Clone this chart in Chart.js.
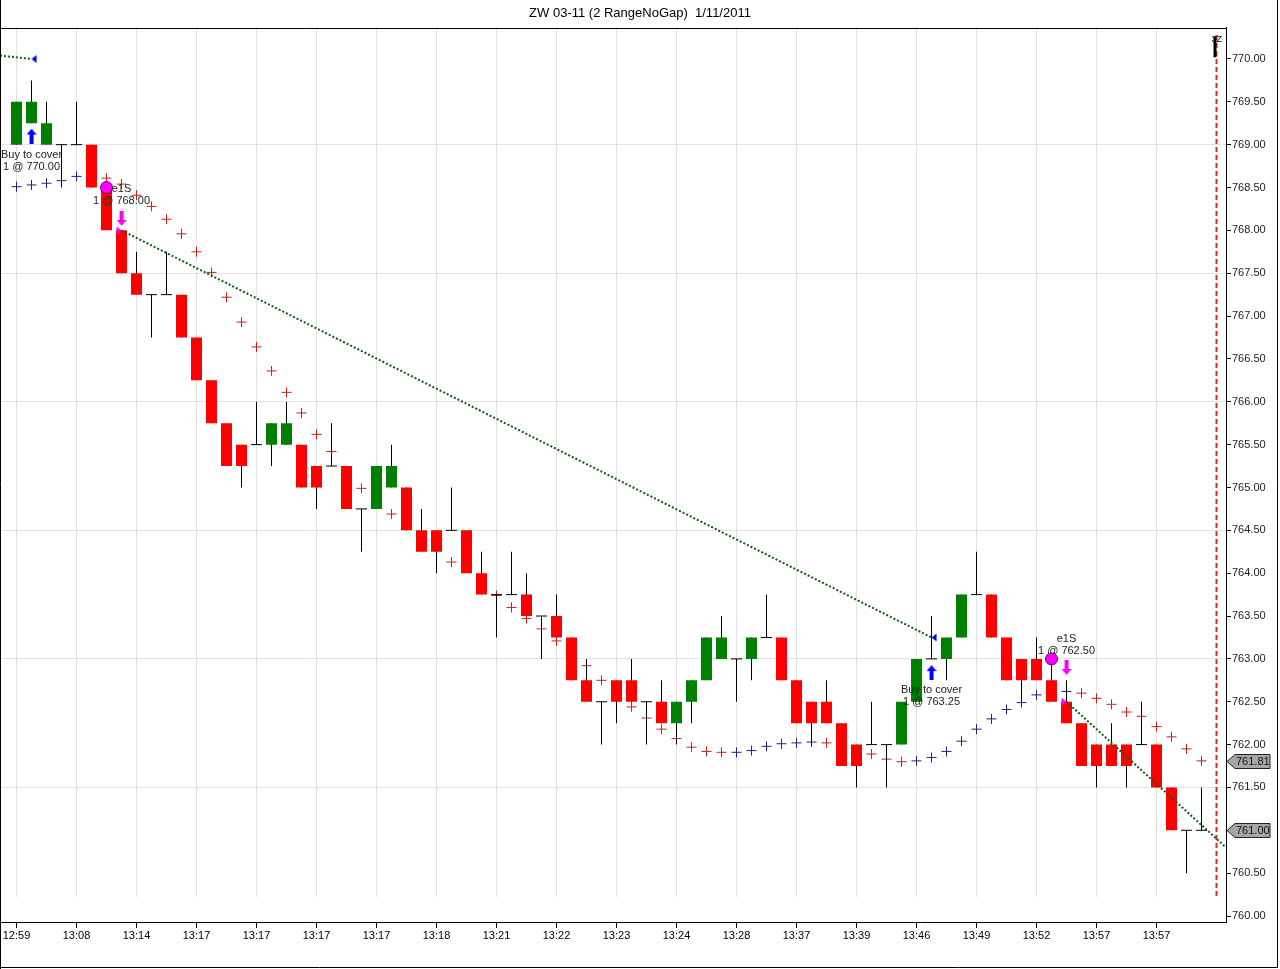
<!DOCTYPE html>
<html>
<head>
<meta charset="utf-8">
<title>ZW 03-11 range chart</title>
<script src="https://cdn.jsdelivr.net/npm/chart.js@4.4.1/dist/chart.umd.min.js"></script>
<style>
  html, body { margin: 0; padding: 0; background: #fff; }
  canvas { display: block; }
</style>
</head>
<body>
<canvas id="chart" width="1280" height="969"></canvas>
<script>
// time labels under every 4th range bar
const timeLabels = ["12:59", "13:08", "13:14", "13:17", "13:17", "13:17", "13:17", "13:18", "13:21", "13:22",
  "13:23", "13:24", "13:28", "13:37", "13:39", "13:46", "13:49", "13:52", "13:57", "13:57"];

const opens = [
  769.00, 769.25, 769.00, 769.00, 769.00, 769.00, 768.50, 768.00, 767.50, 767.25,
  767.25, 767.25, 766.75, 766.25, 765.75, 765.50, 765.50, 765.50, 765.50, 765.50,
  765.25, 765.25, 765.25, 764.75, 764.75, 765.00, 765.00, 764.50, 764.50, 764.50,
  764.50, 764.00, 763.75, 763.75, 763.75, 763.50, 763.50, 763.25, 762.75, 762.50,
  762.75, 762.75, 762.50, 762.50, 762.25, 762.50, 762.75, 763.00, 763.00, 763.00,
  763.25, 763.25, 762.75, 762.50, 762.50, 762.25, 762.00, 762.00, 762.00, 762.00,
  762.50, 763.00, 763.00, 763.25, 763.75, 763.75, 763.25, 763.00, 763.00, 762.75,
  762.50, 762.25, 762.00, 762.00, 762.00, 762.00, 762.00, 761.50, 761.00, 761.00];
const highs = [
  769.50, 769.75, 769.50, 769.00, 769.50, 769.00, 768.50, 768.00, 767.75, 767.25,
  767.75, 767.25, 766.75, 766.25, 765.75, 765.50, 766.00, 765.75, 766.00, 765.50,
  765.25, 765.75, 765.25, 764.75, 765.25, 765.50, 765.00, 764.75, 764.50, 765.00,
  764.50, 764.25, 763.75, 764.25, 764.00, 763.50, 763.75, 763.25, 763.00, 762.50,
  762.75, 763.00, 762.50, 762.75, 762.50, 762.75, 763.25, 763.50, 763.00, 763.25,
  763.75, 763.25, 762.75, 762.50, 762.75, 762.25, 762.00, 762.50, 762.00, 762.50,
  763.00, 763.50, 763.25, 763.75, 764.25, 763.75, 763.25, 763.00, 763.25, 763.00,
  762.75, 762.25, 762.00, 762.25, 762.00, 762.50, 762.00, 761.50, 761.00, 761.50];
const lows = [
  769.00, 769.25, 769.00, 768.50, 769.00, 768.50, 768.00, 767.50, 767.25, 766.75,
  767.25, 766.75, 766.25, 765.75, 765.25, 765.00, 765.50, 765.25, 765.50, 765.00,
  764.75, 765.25, 764.75, 764.25, 764.75, 765.00, 764.50, 764.25, 764.00, 764.50,
  764.00, 763.75, 763.25, 763.75, 763.50, 763.00, 763.25, 762.75, 762.50, 762.00,
  762.25, 762.50, 762.00, 762.25, 762.00, 762.25, 762.75, 763.00, 762.50, 762.75,
  763.25, 762.75, 762.25, 762.00, 762.25, 761.75, 761.50, 762.00, 761.50, 762.00,
  762.50, 763.00, 762.75, 763.25, 763.75, 763.25, 762.75, 762.50, 762.75, 762.50,
  762.25, 761.75, 761.50, 761.75, 761.50, 762.00, 761.50, 761.00, 760.50, 761.00];
const closes = [
  769.50, 769.50, 769.25, 769.00, 769.00, 768.50, 768.00, 767.50, 767.25, 767.25,
  767.25, 766.75, 766.25, 765.75, 765.25, 765.25, 765.50, 765.75, 765.75, 765.00,
  765.00, 765.25, 764.75, 764.75, 765.25, 765.25, 764.50, 764.25, 764.25, 764.50,
  764.00, 763.75, 763.75, 763.75, 763.50, 763.50, 763.25, 762.75, 762.50, 762.50,
  762.50, 762.50, 762.50, 762.25, 762.50, 762.75, 763.25, 763.25, 763.00, 763.25,
  763.25, 762.75, 762.25, 762.25, 762.25, 761.75, 761.75, 762.00, 762.00, 762.50,
  763.00, 763.00, 763.25, 763.75, 763.75, 763.25, 762.75, 762.75, 762.75, 762.50,
  762.25, 761.75, 761.75, 761.75, 761.75, 762.00, 761.50, 761.00, 761.00, 761.00];

// parabolic SAR, blue below price / red above price (null where hidden)
const sarUp = [
  768.51, 768.53, 768.55, 768.58, 768.63, null, null, null, null, null,
  null, null, null, null, null, null, null, null, null, null,
  null, null, null, null, null, null, null, null, null, null,
  null, null, null, null, null, null, null, null, null, null,
  null, null, null, null, null, null, null, null, 761.91, 761.93,
  761.98, 762.01, 762.02, 762.03, null, null, null, null, null, null,
  761.81, 761.85, 761.92, 762.04, 762.18, 762.30, 762.41, 762.49, 762.58, null,
  762.62, null, null, null, null, null, null, null, null, null];
const sarDown = [
  null, null, null, null, null, null, 768.61, 768.54, 768.41, 768.28,
  768.13, 767.96, 767.75, 767.51, 767.22, 766.93, 766.64, 766.36, 766.11, 765.87,
  765.62, 765.42, null, 764.99, null, 764.69, null, null, null, 764.13,
  null, null, 763.74, 763.60, 763.47, 763.35, 763.21, null, 762.92, 762.75,
  null, 762.44, 762.31, 762.18, 762.07, 761.97, 761.92, 761.91, null, null,
  null, null, null, null, 762.02, null, null, 761.89, 761.83, 761.80,
  null, null, null, null, null, null, null, null, null, null,
  null, 762.60, 762.54, 762.47, 762.38, 762.33, 762.21, 762.09, 761.95, 761.81];

const priceTicks = [760.0, 760.5, 761.0, 761.5, 762.0, 762.5, 763.0, 763.5, 764.0, 764.5, 765.0,
  765.5, 766.0, 766.5, 767.0, 767.5, 768.0, 768.5, 769.0, 769.5, 770.0];
const gridPrices = [761.5, 763.0, 764.5, 766.0, 767.5, 769.0];

// trade connector lines (bar index / price)
const tradeOneX = [-1.1, 1], tradeOneY = [770.04, 770.00];
const tradeTwoX = [7, 61], tradeTwoY = [768.00, 763.25];
const tradeThreeX = [70, 80.633], tradeThreeY = [762.50, 760.80];

const exitBars = [1, 61], exitPrices = [770.00, 763.25];
const entryBars = [7, 70], entryPrices = [768.00, 762.50];
const signalBars = [6, 69], signalPrices = [768.50, 763.00];
const upArrowBars = [1, 61], upArrowPrices = [769.10, 762.84];
const downArrowBars = [7, 70], downArrowPrices = [768.14, 762.90];

const noteBars = [1, 7, 61, 70];
const notePrices = [768.88, 768.48, 762.64, 763.23];
const noteTop = ["Buy to cover", "e1S", "Buy to cover", "e1S"];
const noteBottom = ["1 @ 770.00", "1 @ 768.00", "1 @ 763.25", "1 @ 762.50"];

const nowBar = 80;
const nowLineY = [770.28, 760.22];
const busyMarkY = [770.26, 770.02];

Chart.defaults.font.family = 'Arial, "Liberation Sans", sans-serif';
Chart.defaults.font.size = 11;

const pts = (xs, ys) => xs.map((x, i) => ({ x: x, y: ys[i] }));

const wicks = opens.map((_, i) => ({ x: i, y: [lows[i], highs[i]] }));
const bodies = [], bodyColors = [], dojis = [];
opens.forEach((o, i) => {
  const c = closes[i];
  if (o === c) {
    dojis.push({ x: i, y: o });
  } else {
    bodies.push({ x: i, y: [o, c] });
    bodyColors.push(c > o ? '#008000' : '#ff0000');
  }
});

function arrowImg(color, up) {
  const c = document.createElement('canvas');
  c.width = 10; c.height = 15;
  const g = c.getContext('2d');
  if (!up) { g.translate(0, 15); g.scale(1, -1); }
  g.fillStyle = color;
  g.beginPath(); g.moveTo(0, 6); g.lineTo(5, 0); g.lineTo(10, 6); g.closePath(); g.fill();
  g.fillRect(3, 6, 4, 9);
  return c;
}
function triImg(color, left) {
  const c = document.createElement('canvas');
  c.width = 12; c.height = 9;
  const g = c.getContext('2d');
  g.fillStyle = color;
  g.beginPath();
  if (left) { g.moveTo(6, 4.5); g.lineTo(11, 0.5); g.lineTo(11, 8.5); }
  else { g.moveTo(6, 4.5); g.lineTo(1, 0.5); g.lineTo(1, 8.5); }
  g.closePath(); g.fill();
  return c;
}

const decor = {
  id: 'decor',
  beforeDatasetsDraw(chart) {
    // faded sub-panel strip at the bottom of the price pane
    const { ctx, chartArea: a, scales } = chart;
    const top = scales.y.getPixelForValue(nowLineY[1]);
    ctx.save();
    ctx.fillStyle = '#fff';
    ctx.fillRect(a.left + 1, top, a.right - a.left - 2, a.bottom - top - 1);
    ctx.restore();
  },
  afterDatasetDraw(chart, args) {
    if (chart.data.datasets[args.index].label !== 'doji') return;
    const { ctx, scales } = chart;
    ctx.save();
    ctx.font = '11px Arial, "Liberation Sans", sans-serif';
    ctx.fillStyle = '#222';
    ctx.textAlign = 'center';
    ctx.textBaseline = 'middle';
    noteBars.forEach((b, i) => {
      const x = scales.x.getPixelForValue(b);
      const y = scales.y.getPixelForValue(notePrices[i]);
      ctx.fillText(noteTop[i], x, y);
      ctx.fillText(noteBottom[i], x, y + 12);
    });
    ctx.restore();
  },
  afterDraw(chart) {
    const { ctx, chartArea: a, scales } = chart;
    const W = chart.width, H = chart.height;
    ctx.save();
    ctx.strokeStyle = '#000';
    ctx.lineWidth = 1;
    ctx.beginPath();
    ctx.moveTo(0, Math.round(a.top) + 0.5); ctx.lineTo(a.right, Math.round(a.top) + 0.5);
    ctx.moveTo(0.5, 0); ctx.lineTo(0.5, H);
    ctx.moveTo(W - 2.5, 0); ctx.lineTo(W - 2.5, H - 1.5);
    ctx.moveTo(0, H - 1.5); ctx.lineTo(W - 2, H - 1.5);
    ctx.stroke();

    // "3Z" next to the bar in progress
    const nx = scales.x.getPixelForValue(nowBar);
    ctx.font = '9px Arial, "Liberation Sans", sans-serif';
    ctx.fillStyle = '#000';
    ctx.textBaseline = 'middle';
    ctx.fillText('3Z', nx - 5, scales.y.getPixelForValue(busyMarkY[0]) + 3);

    // price tags on the axis
    const tags = [sarDown[sarDown.length - 1], closes[closes.length - 1]];
    ctx.font = '11px Arial, "Liberation Sans", sans-serif';
    tags.forEach(v => {
      const y = Math.round(scales.y.getPixelForValue(v)) + 0.5;
      const x0 = a.right + 1;
      ctx.beginPath();
      ctx.moveTo(x0, y);
      ctx.lineTo(x0 + 8, y - 7);
      ctx.lineTo(x0 + 43, y - 7);
      ctx.lineTo(x0 + 43, y + 7);
      ctx.lineTo(x0 + 8, y + 7);
      ctx.closePath();
      ctx.fillStyle = '#a6a6a6';
      ctx.fill();
      ctx.strokeStyle = '#222';
      ctx.stroke();
      ctx.fillStyle = '#111';
      ctx.textAlign = 'left';
      ctx.fillText(v.toFixed(2), x0 + 9, y + 0.5);
    });
    ctx.restore();
  }
};

new Chart(document.getElementById('chart'), {
  type: 'scatter',
  data: {
    datasets: [
      {
        label: 'sarUp', type: 'scatter', order: 6,
        data: sarUp.map((v, i) => ({ x: i, y: v })),
        pointStyle: 'cross', radius: 5, borderWidth: 1, borderColor: '#22228a'
      },
      {
        label: 'sarDown', type: 'scatter', order: 6,
        data: sarDown.map((v, i) => ({ x: i, y: v })),
        pointStyle: 'cross', radius: 5, borderWidth: 1, borderColor: '#d01c1c'
      },
      {
        label: 'wick', type: 'bar', order: 5, data: wicks,
        backgroundColor: '#000', barThickness: 1, grouped: false, inflateAmount: 0, borderWidth: 0
      },
      {
        label: 'body', type: 'bar', order: 4, data: bodies,
        backgroundColor: bodyColors, barThickness: 11, grouped: false, inflateAmount: 0, borderWidth: 0
      },
      {
        label: 'doji', type: 'scatter', order: 3, data: dojis,
        pointStyle: 'line', radius: 5.5, borderWidth: 1, borderColor: '#000'
      },
      {
        label: 'trade1', type: 'line', order: 2, data: pts(tradeOneX, tradeOneY),
        borderColor: '#0b5d0b', borderWidth: 2, borderDash: [2, 2], pointRadius: 0
      },
      {
        label: 'trade2', type: 'line', order: 2, data: pts(tradeTwoX, tradeTwoY),
        borderColor: '#0b5d0b', borderWidth: 2, borderDash: [2, 2], pointRadius: 0
      },
      {
        label: 'trade3', type: 'line', order: 2, data: pts(tradeThreeX, tradeThreeY),
        borderColor: '#0b5d0b', borderWidth: 2, borderDash: [2, 2], pointRadius: 0
      },
      {
        label: 'now', type: 'line', order: 2, data: pts([nowBar, nowBar], nowLineY),
        borderColor: '#e02a2a', borderWidth: 2, borderDash: [5, 3], pointRadius: 0
      },
      {
        label: 'busy', type: 'line', order: 1, data: pts([nowBar - 0.1, nowBar - 0.1], busyMarkY),
        borderColor: '#000', borderWidth: 3, pointRadius: 0
      },
      {
        label: 'signal', type: 'scatter', order: 0, data: pts(signalBars, signalPrices),
        pointStyle: 'circle', radius: 6, backgroundColor: '#ff00ff', borderColor: '#6b006b', borderWidth: 1
      },
      {
        label: 'exit', type: 'scatter', order: 0, data: pts(exitBars, exitPrices),
        pointStyle: triImg('#0000ff', true)
      },
      {
        label: 'entry', type: 'scatter', order: 0, data: pts(entryBars, entryPrices),
        pointStyle: triImg('#ff00ff', false)
      },
      {
        label: 'up', type: 'scatter', order: 0, data: pts(upArrowBars, upArrowPrices),
        pointStyle: arrowImg('#0000ff', true)
      },
      {
        label: 'down', type: 'scatter', order: 0, data: pts(downArrowBars, downArrowPrices),
        pointStyle: arrowImg('#ff00ff', false)
      }
    ]
  },
  options: {
    responsive: false,
    animation: false,
    events: [],
    layout: { padding: 0, autoPadding: false },
    plugins: {
      legend: { display: false },
      tooltip: { enabled: false },
      title: {
        display: true,
        text: 'ZW 03-11 (2 RangeNoGap)  1/11/2011',
        color: '#000',
        font: { size: 13, weight: 'normal' },
        padding: { top: 6, bottom: 6 }
      }
    },
    scales: {
      x: {
        type: 'linear', position: 'bottom', min: -1.1, max: 80.633, bounds: 'data',
        offset: false,
        afterBuildTicks: (scale) => { scale.ticks = timeLabels.map((_, k) => ({ value: k * 4 })); },
        afterFit: (scale) => {
          scale.height = 47;
          scale.paddingLeft = 0;
          scale.paddingRight = 0;
        },
        ticks: {
          autoSkip: false, maxRotation: 0, padding: 1, color: '#000',
          callback: (v, i) => timeLabels[i]
        },
        grid: { offset: false, color: '#e2e2e2', tickColor: '#000', tickLength: 6 },
        border: { color: '#000' }
      },
      y: {
        type: 'linear', position: 'right', min: 759.93, max: 770.366, bounds: 'data',
        afterBuildTicks: (scale) => { scale.ticks = priceTicks.map(v => ({ value: v })); },
        afterFit: (scale) => {
          scale.width = 54;
          scale.paddingTop = 0;
          scale.paddingBottom = 0;
        },
        ticks: { padding: 1, color: '#222', callback: (v) => v.toFixed(2) },
        grid: {
          color: (c) => (c.tick && gridPrices.includes(c.tick.value)) ? '#e2e2e2' : 'rgba(0,0,0,0)',
          tickColor: '#000', tickLength: 5
        },
        border: { color: '#000' }
      }
    }
  },
  plugins: [decor]
});
</script>
</body>
</html>
